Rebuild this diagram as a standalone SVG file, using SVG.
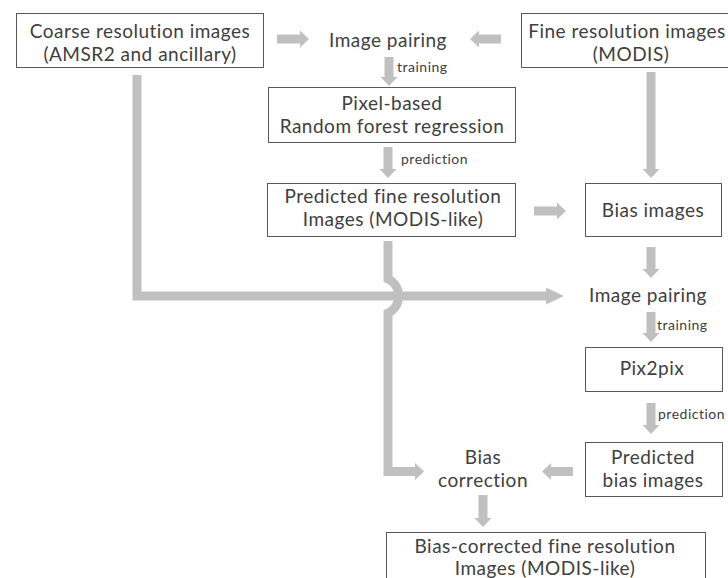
<svg xmlns="http://www.w3.org/2000/svg" width="728" height="578" viewBox="0 0 728 578">
  <style>
    .box { fill: #ffffff; stroke: #595959; stroke-width: 1; }
    .t { font-family: Lato, "Noto Sans CJK JP", sans-serif; font-size: 19px; letter-spacing: 0.5px; font-variant-ligatures: none; fill: #404040; text-anchor: middle; }
    .lbl { font-family: Lato, "Noto Sans CJK JP", sans-serif; font-size: 14px; letter-spacing: 0.5px; font-variant-ligatures: none; fill: #404040; }
    .arr { fill: none; stroke: #c0c0c0; stroke-width: 9; stroke-linejoin: miter; }
  </style>
  <defs>
    <marker id="head" viewBox="0 0 9 17" refX="0" refY="8.5" markerWidth="9" markerHeight="17" markerUnits="userSpaceOnUse" orient="auto">
      <path d="M0,0 L9,8.5 L0,17 Z" fill="#c0c0c0"/>
    </marker>
    <marker id="headLong" viewBox="0 0 18 17" refX="0" refY="8.5" markerWidth="18" markerHeight="17" markerUnits="userSpaceOnUse" orient="auto">
      <path d="M0,0 L18,8.5 L0,17 Z" fill="#c0c0c0"/>
    </marker>
  </defs>

  <rect width="728" height="578" fill="#ffffff"/>

  <g id="connectors">
    <path class="arr" d="M277,39 H300" marker-end="url(#head)"/>
    <path class="arr" d="M501,39 H479" marker-end="url(#head)"/>
    <path class="arr" d="M389,57 V77" marker-end="url(#head)"/>
    <path class="arr" d="M388,147 V169" marker-end="url(#head)"/>
    <path class="arr" d="M651,72 V169" marker-end="url(#head)"/>
    <path class="arr" d="M534,211 H557" marker-end="url(#head)"/>
    <path class="arr" d="M651,247 V269" marker-end="url(#head)"/>
    <path class="arr" d="M651,312 V333" marker-end="url(#head)"/>
    <path class="arr" d="M651,403 V425" marker-end="url(#head)"/>
    <path class="arr" d="M573,471.5 H551" marker-end="url(#head)"/>
    <path class="arr" d="M483,495 V518" marker-end="url(#head)"/>
    <!-- long feed from the coarse images, hopping over the vertical feed below -->
    <path class="arr" d="M137,75 V296 H546" marker-end="url(#headLong)"/>
    <path class="arr" d="M388,241 V279 A18.8,18.8 0 0 1 388,313 V471.5 H415" marker-end="url(#head)"/>
  </g>

  <g id="coarse">
    <rect class="box" x="16.5" y="13.5" width="247" height="54"/>
    <text class="t" x="140" y="38">Coarse resolution images</text>
    <text class="t" x="140" y="61">(AMSR2 and ancillary)</text>
  </g>

  <g id="pairing1">
    <text class="t" x="388" y="47">Image pairing</text>
  </g>

  <g id="fine">
    <rect class="box" x="521.5" y="13.5" width="220" height="54"/>
    <text class="t" x="627" y="38">Fine resolution images</text>
    <text class="t" x="631" y="61">(MODIS)</text>
  </g>

  <g id="rf">
    <rect class="box" x="268.5" y="87.5" width="247" height="55"/>
    <text class="t" x="392" y="110">Pixel-based</text>
    <text class="t" x="392" y="133">Random forest regression</text>
  </g>

  <g id="predicted-fine">
    <rect class="box" x="267.5" y="183.5" width="248" height="53"/>
    <text class="t" x="393" y="203">Predicted fine resolution</text>
    <text class="t" x="393" y="226">Images (MODIS-like)</text>
  </g>

  <g id="bias">
    <rect class="box" x="585.5" y="183.5" width="136" height="53"/>
    <text class="t" x="653" y="217">Bias images</text>
  </g>

  <g id="pairing2">
    <text class="t" x="648" y="302">Image pairing</text>
  </g>

  <g id="pix2pix">
    <rect class="box" x="585.5" y="347.5" width="137" height="44"/>
    <text class="t" x="652" y="375">Pix2pix</text>
  </g>

  <g id="predicted-bias">
    <rect class="box" x="585.5" y="442.5" width="137" height="54"/>
    <text class="t" x="653" y="464">Predicted</text>
    <text class="t" x="653" y="487">bias images</text>
  </g>

  <g id="correction">
    <text class="t" x="483" y="464">Bias</text>
    <text class="t" x="483" y="487">correction</text>
  </g>

  <g id="corrected">
    <rect class="box" x="386.5" y="532.5" width="319" height="60"/>
    <text class="t" x="545" y="553">Bias-corrected fine resolution</text>
    <text class="t" x="545" y="575">Images (MODIS-like)</text>
  </g>

  <g id="labels">
    <text class="lbl" x="397" y="72">training</text>
    <text class="lbl" x="401" y="164">prediction</text>
    <text class="lbl" x="657" y="330">training</text>
    <text class="lbl" x="658" y="419">prediction</text>
  </g>
</svg>
